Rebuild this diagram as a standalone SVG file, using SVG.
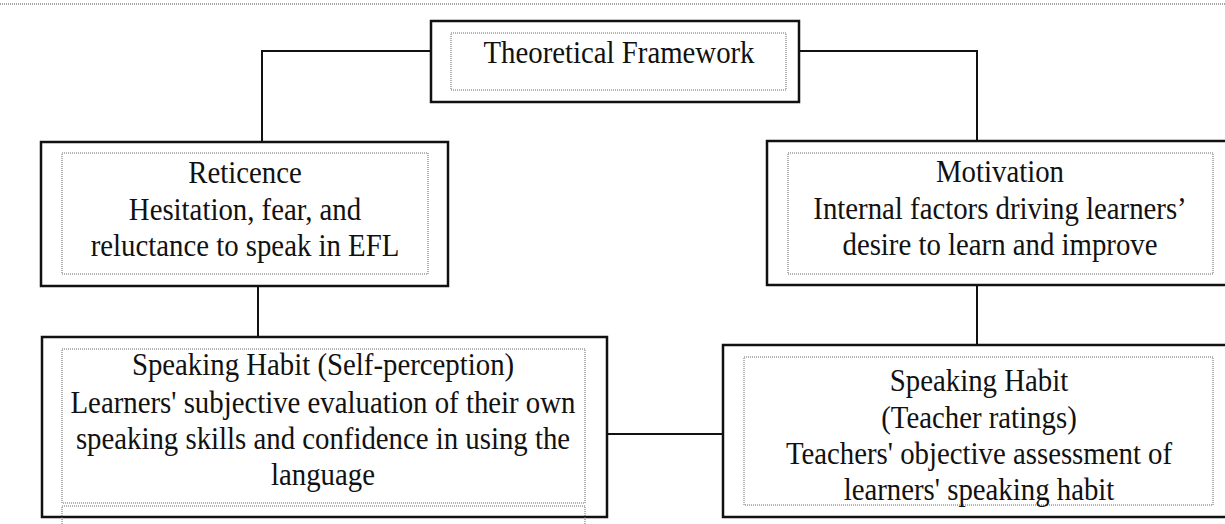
<svg xmlns="http://www.w3.org/2000/svg" width="1225" height="524" viewBox="0 0 1225 524">
<style>
.outer{fill:#fff;stroke:#111;stroke-width:2.5}
.inner{fill:none;stroke:#666;stroke-width:1;stroke-dasharray:1 1}
.conn{fill:none;stroke:#111;stroke-width:2}
text{font-family:"Liberation Serif","Times New Roman",Times,serif;font-size:32px;fill:#111;text-anchor:middle}
</style>
<rect width="1225" height="524" fill="#fff"/>
<line x1="0" y1="4" x2="1225" y2="4" stroke="#888" stroke-width="1.5" stroke-dasharray="1 1"/>
<g id="connectors">
<path class="conn" d="M431,51 H262 V142"/>
<path class="conn" d="M799,51 H977 V141"/>
<path class="conn" d="M258,286 V337"/>
<path class="conn" d="M977,285 V345"/>
<path class="conn" d="M607,434 H723"/>
</g>
<g id="theoretical-framework">
<rect class="outer" x="431" y="21" width="368" height="81"/>
<rect class="inner" x="451" y="33" width="335" height="57"/>
<g transform="translate(619 0) scale(0.9 1)">
<text x="0" y="63">Theoretical Framework</text>
</g>
</g>
<g id="reticence">
<rect class="outer" x="41" y="142" width="407" height="144"/>
<rect class="inner" x="62" y="153" width="366" height="121"/>
<g transform="translate(245 0) scale(0.9 1)">
<text x="0" y="183">Reticence</text>
<text x="0" y="220">Hesitation, fear, and</text>
<text x="0" y="256">reluctance to speak in EFL</text>
</g>
</g>
<g id="motivation">
<rect class="outer" x="767" y="141" width="470" height="144"/>
<rect class="inner" x="788" y="153" width="425" height="121"/>
<g transform="translate(1000 0) scale(0.9 1)">
<text x="0" y="182">Motivation</text>
<text x="0" y="219">Internal factors driving learners’</text>
<text x="0" y="255">desire to learn and improve</text>
</g>
</g>
<g id="speaking-habit-self">
<rect class="outer" x="42" y="337" width="565" height="180"/>
<rect class="inner" x="62" y="349" width="523" height="154"/>
<rect class="inner" x="62" y="506" width="523" height="30"/>
<g transform="translate(323 0) scale(0.9 1)">
<text x="0" y="375">Speaking Habit (Self-perception)</text>
<text x="0" y="413">Learners' subjective evaluation of their own</text>
<text x="0" y="449">speaking skills and confidence in using the</text>
<text x="0" y="485">language</text>
</g>
</g>
<g id="speaking-habit-teacher">
<rect class="outer" x="723" y="345" width="515" height="172"/>
<rect class="inner" x="744" y="357" width="469" height="148"/>
<g transform="translate(979 0) scale(0.9 1)">
<text x="0" y="391">Speaking Habit</text>
<text x="0" y="428">(Teacher ratings)</text>
<text x="0" y="464">Teachers' objective assessment of</text>
<text x="0" y="500">learners' speaking habit</text>
</g>
</g>
</svg>
